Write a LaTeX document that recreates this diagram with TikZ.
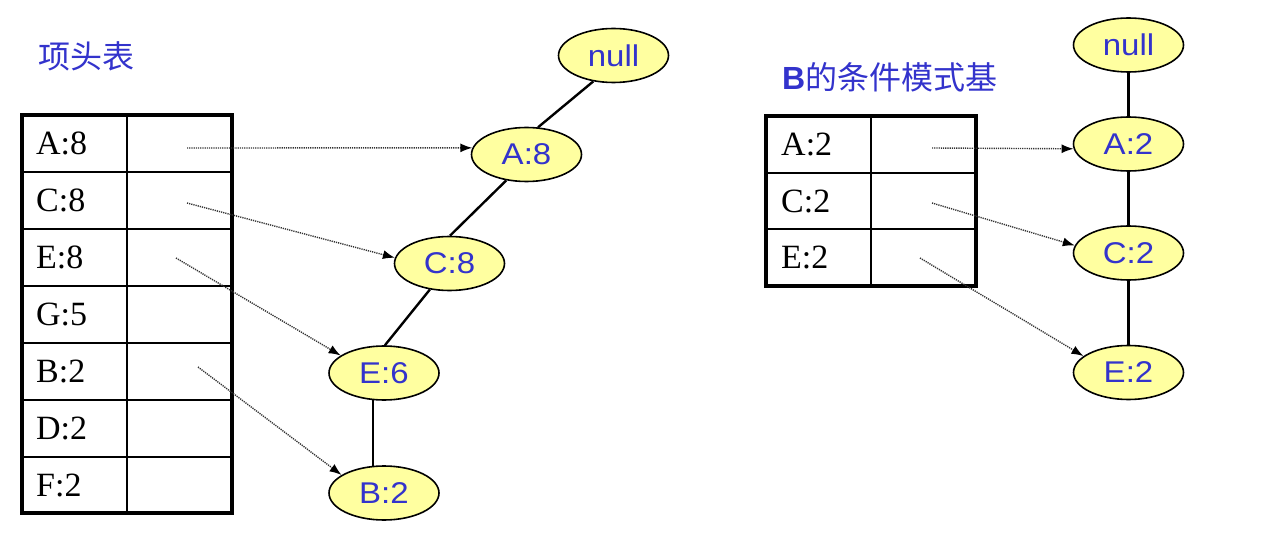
\documentclass[tikz,border=0pt]{standalone}
\usepackage{fontspec}
\usepackage{graphicx}
\setmainfont{Liberation Serif}
\newfontfamily\arialf{Liberation Sans}
\newfontfamily\cjk{Noto Sans CJK SC}
\usetikzlibrary{arrows.meta,shapes.geometric}
\definecolor{txtblue}{RGB}{51,51,204}
\definecolor{nodefill}{RGB}{255,255,160}
\definecolor{ptrgray}{RGB}{50,50,50}
\newcommand\strw[1]{\scalebox{1.1}[1]{#1}}
\tikzset{
  tnode/.style={ellipse, draw, line width=1.6pt, fill=nodefill, minimum width=110pt,
    minimum height=54pt, inner sep=0pt, text=txtblue,
    font=\arialf\fontsize{30}{30}\selectfont},
  celltext/.style={anchor=west, inner sep=0pt, font=\fontsize{34}{34}\selectfont},
  titletext/.style={anchor=west, inner sep=0pt, text=txtblue, font=\cjk\fontsize{32}{32}\selectfont},
  tedge/.style={line width=2.4pt},
  ptr/.style={ptrgray, line width=1.4pt, dash pattern=on 1.2pt off 1pt,
    -{Latex[length=12pt,width=9pt,fill=black,color=black]}},
  outer/.style={line width=3.6pt, line join=miter},
  inner/.style={line width=2pt},
}
\begin{document}
\begin{tikzpicture}[x=1pt,y=-1pt]
\useasboundingbox[fill=white] (0,0) rectangle (1269,537);

% titles
\node[titletext] (t1) at (38,56) {项头表};
\node[titletext] (t2) at (782,77) {{\arialf\bfseries B}的条件模式基};

% left table
\foreach \y in {172,229,286,343,400,457} \draw[inner] (22,\y) -- (232,\y);
\draw[inner] (127,115) -- (127,513);
\draw[outer] (22,115) rectangle (232,513);
\node[celltext] (lA) at (36,143.5) {A:8};
\node[celltext] (lC) at (36,200.5) {C:8};
\node[celltext] (lE) at (36,257.5) {E:8};
\node[celltext] (lG) at (36,314.5) {G:5};
\node[celltext] (lB) at (36,371.5) {B:2};
\node[celltext] (lD) at (36,428.5) {D:2};
\node[celltext] (lF) at (36,485) {F:2};

% right table
\foreach \y in {173,229} \draw[inner] (766,\y) -- (976,\y);
\draw[inner] (871,116) -- (871,286);
\draw[outer] (766,116) rectangle (976,286);
\node[celltext] (rA) at (781,144) {A:2};
\node[celltext] (rC) at (781,201) {C:2};
\node[celltext] (rE) at (781,257.5) {E:2};

% left tree
\node[tnode] (nullL) at (613.5,55.5) {\strw{null}};
\node[tnode] (A8) at (526.5,154.5) {\strw{A:8}};
\node[tnode] (C8) at (449.5,263.5) {\strw{C:8}};
\node[tnode] (E6) at (384,373) {\strw{E:6}};
\node[tnode] (B2) at (384,493) {\strw{B:2}};
\draw[tedge] (nullL.232) -- (A8.67);
\draw[tedge] (A8.232) -- (C8.89);
\draw[tedge] (C8.233) -- (E6.88);
\draw[tedge] (E6.-112.5) -- (B2.112.5);

% right tree
\node[tnode] (nullR) at (1128.5,45) {\strw{null}};
\node[tnode] (A2) at (1128.5,144) {\strw{A:2}};
\node[tnode] (C2) at (1128.5,253) {\strw{C:2}};
\node[tnode] (E2) at (1128.5,372.5) {\strw{E:2}};
\draw[tedge] (nullR) -- (A2);
\draw[tedge] (A2) -- (C2);
\draw[tedge] (C2) -- (E2);

% pointers
\coordinate (sA) at (187,148);
\coordinate (sC) at (187,203);
\coordinate (sE) at (176,258);
\coordinate (sB) at (198,367);
\draw[ptr] (sA) -- (A8.173);
\draw[ptr] (sC) -- (C8.174);
\draw[ptr] (sE) -- (E6.158);
\draw[ptr] (sB) -- (B2.157);
\coordinate (sA2) at (932,148);
\coordinate (sC2) at (932,203);
\coordinate (sE2) at (920,258);
\draw[ptr] (sA2) -- (A2.185);
\draw[ptr] (sC2) -- (C2.172);
\draw[ptr] (sE2) -- (E2.160);
\end{tikzpicture}
\end{document}
